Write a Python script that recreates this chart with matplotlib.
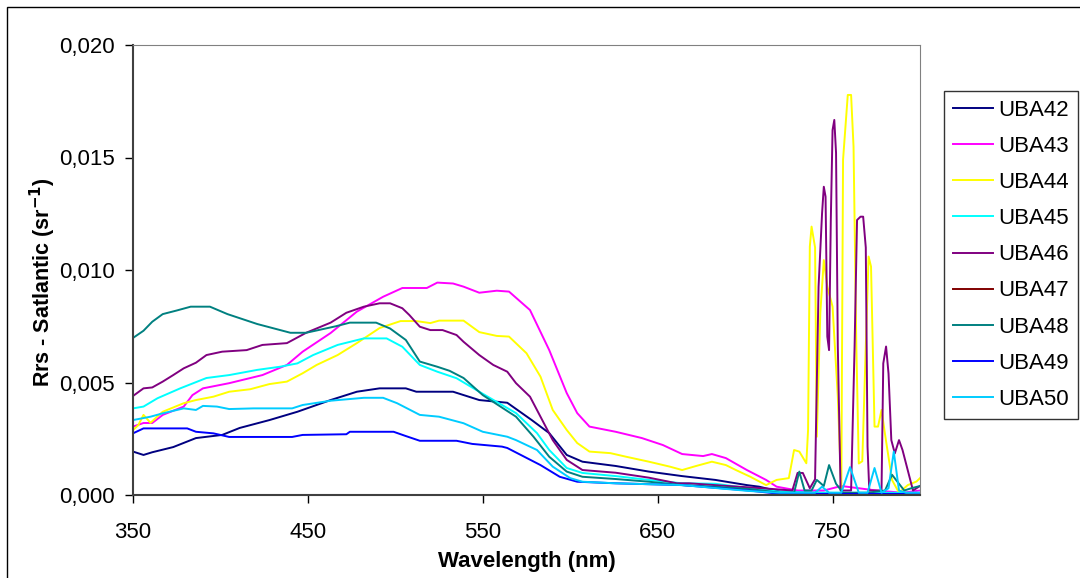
import matplotlib
matplotlib.use('Agg')
import matplotlib.pyplot as plt
from matplotlib.ticker import FuncFormatter
from matplotlib.patches import Rectangle

plt.rcParams['font.family'] = ['Liberation Sans', 'DejaVu Sans']

# Rrs spectra, wavelength (nm) / Rrs (sr-1)
wl_42 = [350, 356, 361, 373, 386, 401, 411, 428, 444, 463, 478, 491, 506, 512, 533, 548, 564, 578,
         588, 598, 607, 626, 645, 664, 683, 701, 708, 720, 740, 760, 780, 800]
rrs_42 = [0.00193, 0.00178, 0.0019, 0.00213, 0.00253, 0.00267, 0.00298, 0.00333, 0.0037, 0.00422,
          0.00459, 0.00474, 0.00474, 0.00459, 0.00459, 0.00422, 0.0041, 0.00333, 0.00275, 0.00178,
          0.00148, 0.00129, 0.00104, 0.00084, 0.00067, 0.00044, 0.00037, 0.00015, 0.0001, 0.00008,
          0.00005, 0.00005]

wl_43 = [350, 356, 361, 367, 379, 384, 390, 405, 424, 438, 447, 463, 478, 493, 504, 518, 524, 533,
         539, 548, 558, 565, 577, 588, 598, 604, 611, 626, 641, 653, 664, 676, 681, 689, 701, 712,
         718, 730, 745, 755, 775, 790, 800]
rrs_43 = [0.00304, 0.0032, 0.0032, 0.00356, 0.00393, 0.00444, 0.00474, 0.00497, 0.00533, 0.00578,
          0.00637, 0.0072, 0.00815, 0.00881, 0.0092, 0.0092, 0.00944, 0.0094, 0.00926, 0.00899,
          0.00908, 0.00904, 0.00822, 0.00644, 0.00453, 0.00364, 0.00304, 0.00281, 0.00253, 0.00222,
          0.00182, 0.00173, 0.00182, 0.00164, 0.00111, 0.00067, 0.00037, 0.0002, 0.0002, 0.0004,
          0.0002, 0.0001, 0.0002]

wl_44 = [350, 353, 356, 360, 367, 379, 386, 396, 405, 417, 428, 438, 447, 455, 467, 478, 491, 503,
         512, 520, 525, 539, 548, 558, 565, 575, 583, 590, 598, 604, 611, 623, 632, 645, 657, 664,
         672, 681, 689, 695, 703, 712, 718, 725, 728, 731, 735, 736, 737, 738, 740, 741, 743, 745,
         747, 750, 753, 755, 756, 758.7, 760.6, 762, 763.6, 765, 767, 769, 770.6, 772, 774, 776,
         778, 780, 784, 788, 793, 798, 800]
rrs_44 = [0.00289, 0.0031, 0.00356, 0.00321, 0.0037, 0.00408, 0.00422, 0.00437, 0.00459, 0.0047,
          0.00493, 0.00504, 0.00541, 0.00578, 0.00622, 0.00675, 0.00742, 0.00773, 0.00773, 0.00764,
          0.00775, 0.00775, 0.00724, 0.00707, 0.00704, 0.0063, 0.00526, 0.00378, 0.00289, 0.00231,
          0.00193, 0.00186, 0.0017, 0.00148, 0.00126, 0.00111, 0.00129, 0.00148, 0.00133, 0.0011,
          0.00081, 0.00044, 0.00067, 0.00075, 0.002, 0.00193, 0.00141, 0.00289, 0.01104, 0.01193,
          0.011, 0.00259, 0.0081, 0.01044, 0.00926, 0.00837, 0.00437, 0.0002, 0.0149, 0.01778,
          0.01778, 0.01548, 0.00659, 0.0014, 0.0015, 0.0066, 0.0106, 0.01015, 0.00304, 0.00304,
          0.00378, 0.0027, 0.00067, 0.0001, 0.00044, 0.0006, 0.00075]

wl_45 = [350, 356, 364, 377, 392, 405, 421, 434, 444, 453, 467, 482, 495, 504, 514, 524, 535, 548,
         561, 569, 581, 588, 598, 607, 626, 645, 664, 683, 702, 720, 740, 760, 780, 800]
rrs_45 = [0.00385, 0.00393, 0.0043, 0.00474, 0.0052, 0.00533, 0.00556, 0.0057, 0.00585, 0.00622,
          0.00667, 0.00696, 0.00696, 0.00659, 0.00578, 0.00548, 0.00519, 0.00459, 0.004, 0.00364,
          0.00275, 0.002, 0.0012, 0.00098, 0.00084, 0.00067, 0.00052, 0.0005, 0.0003, 0.00015,
          0.0001, 0.0001, 0.0001, 0.0001]

wl_46 = [350, 356, 361, 367, 373, 379, 386, 392, 401, 415, 424, 438, 449, 463, 472, 482, 491, 497,
         504, 508, 514, 520, 527, 535, 539, 548, 556, 564, 569, 577, 583, 590, 598, 607, 626, 645,
         661, 668, 690, 710, 727, 730, 733, 737, 740, 742, 744, 745, 746, 747, 748, 749, 750, 751,
         752, 753, 754.6, 760.6, 762.6, 764, 766, 767.5, 769, 770, 771, 778, 779, 780.6, 782, 783.6,
         785.6, 788, 790, 793, 796, 800]
rrs_46 = [0.0044, 0.00474, 0.00478, 0.00504, 0.00533, 0.00563, 0.00588, 0.00622, 0.00637, 0.00644,
          0.00667, 0.00675, 0.00721, 0.00766, 0.0081, 0.00837, 0.00852, 0.00852, 0.0083, 0.008,
          0.00748, 0.00733, 0.00733, 0.00711, 0.00681, 0.00622, 0.00578, 0.00548, 0.00497, 0.00437,
          0.00348, 0.00244, 0.00156, 0.00111, 0.00099, 0.00077, 0.00052, 0.00052, 0.0004, 0.0003,
          0.0002, 0.00098, 0.00098, 0.0003, 0.0007, 0.00926, 0.01252, 0.0137, 0.01326, 0.00704,
          0.00644, 0.01222, 0.01622, 0.01667, 0.0152, 0.0066, 0.0002, 0.0002, 0.0066, 0.01222,
          0.01237, 0.01237, 0.011, 0.00215, 0.0002, 0.0002, 0.00585, 0.0066, 0.0054, 0.00244,
          0.00185, 0.00244, 0.002, 0.0011, 0.0002, 0.0004]

# UBA47 has no visible trace in the chart, only a legend entry
wl_47 = []
rrs_47 = []

wl_48 = [350, 356, 361, 367, 375, 383, 394, 404, 421, 440, 449, 466, 474, 489, 497, 506, 514, 524,
         531, 539, 550, 569, 579, 588, 598, 607, 626, 645, 664, 683, 702, 720, 728, 731, 734, 738,
         741, 745, 748, 752, 756, 770, 780, 784, 791, 795, 800]
rrs_48 = [0.00698, 0.0073, 0.0077, 0.00804, 0.0082, 0.00837, 0.00837, 0.00804, 0.0076, 0.00721,
          0.00721, 0.0075, 0.00766, 0.00766, 0.0074, 0.00689, 0.00593, 0.0057, 0.00552, 0.0052,
          0.00444, 0.00348, 0.00259, 0.0017, 0.00104, 0.00081, 0.00071, 0.00059, 0.00044, 0.00037,
          0.00027, 0.0001, 0.0001, 0.00104, 0.0002, 0.0002, 0.00067, 0.0004, 0.00133, 0.0005,
          0.0001, 0.0001, 0.0002, 0.0009, 0.0002, 0.0003, 0.0004]

wl_49 = [350, 356, 381, 386, 396, 405, 441, 447, 472, 474, 499, 506, 514, 535, 544, 561, 564, 573,
         583, 594, 604, 626, 664, 702, 720, 800]
rrs_49 = [0.00274, 0.00296, 0.00296, 0.00281, 0.00274, 0.00258, 0.00258, 0.00267, 0.0027, 0.00281,
          0.00281, 0.00262, 0.00241, 0.00241, 0.00227, 0.00215, 0.00209, 0.00173, 0.00133, 0.00081,
          0.00059, 0.00052, 0.00044, 0.0002, 0.00005, 0.00005]

wl_50 = [350, 360, 367, 379, 386, 390, 398, 405, 419, 441, 447, 463, 482, 493, 501, 514, 525, 539,
         550, 564, 569, 581, 590, 600, 607, 626, 664, 702, 720, 740, 744, 748, 755, 760, 765, 770,
         774, 778, 782, 785, 788, 792, 800]
rrs_50 = [0.00333, 0.00348, 0.00363, 0.00385, 0.00378, 0.00396, 0.00393, 0.00382, 0.00385, 0.00385,
          0.004, 0.00419, 0.00432, 0.00432, 0.00408, 0.00356, 0.00348, 0.00319, 0.00281, 0.00259,
          0.00244, 0.002, 0.00126, 0.00075, 0.00059, 0.00052, 0.00044, 0.00018, 0.0001, 0.0001,
          0.00037, 0.0001, 0.0001, 0.00124, 0.0001, 0.0001, 0.0012, 0.0001, 0.0003, 0.00193,
          0.0002, 0.0001, 0.0001]

names = ['UBA42', 'UBA43', 'UBA44', 'UBA45', 'UBA46', 'UBA47', 'UBA48', 'UBA49', 'UBA50']
colors = ['#000080', '#FF00FF', '#FFFF00', '#00FFFF', '#800080', '#800000', '#008080', '#0000FF', '#00CCFF']
series = [(wl_42, rrs_42), (wl_43, rrs_43), (wl_44, rrs_44), (wl_45, rrs_45), (wl_46, rrs_46),
          (wl_47, rrs_47), (wl_48, rrs_48), (wl_49, rrs_49), (wl_50, rrs_50)]

fig = plt.figure(figsize=(10.8, 5.78), dpi=100)
ax = fig.add_axes([133 / 1080, 1 - 495 / 578, (920 - 133) / 1080, (495 - 45) / 578])

for (x, y), name, c in zip(series, names, colors):
    ax.plot(x, y, color=c, lw=1.4, label=name)

ax.set_xlim(350, 800)
ax.set_ylim(0, 0.020)
ax.set_xticks([350, 450, 550, 650, 750])
ax.set_yticks([0, 0.005, 0.010, 0.015, 0.020])
ax.yaxis.set_major_formatter(FuncFormatter(lambda v, p: ('%.3f' % v).replace('.', ',')))
ax.tick_params(direction='out', length=6, width=1, labelsize=16)
ax.tick_params(axis='x', pad=13.5)
ax.tick_params(axis='y', pad=7)

for side in ['top', 'right']:
    ax.spines[side].set_color('#808080')
for side in ['left', 'bottom']:
    ax.spines[side].set_color('#404040')
    ax.spines[side].set_linewidth(1.5)

ax.set_xlabel('Wavelength (nm)', fontsize=16, fontweight='bold', labelpad=5.5)
ax.set_ylabel('Rrs - Satlantic (sr$^{\\mathbf{-1}}$)', fontsize=15.5, fontweight='bold')
ax.yaxis.set_label_coords((58 - 133) / 787, 0.473)

leg = ax.legend(loc='upper left', bbox_to_anchor=(944 / 1080, 1 - 91 / 578),
                bbox_transform=fig.transFigure, fontsize=16, frameon=True, fancybox=False,
                edgecolor='black', handlelength=1.8, handletextpad=0.25, labelspacing=0.68,
                borderpad=0.4, borderaxespad=0)
leg.get_frame().set_linewidth(1.0)

# outer chart border
fig.patches.append(Rectangle((7 / 1080, -0.01), 1.02, 1 - 7 / 578 + 0.01, transform=fig.transFigure,
                             fill=False, edgecolor='black', lw=1))

fig.savefig('out.png', dpi=100)
